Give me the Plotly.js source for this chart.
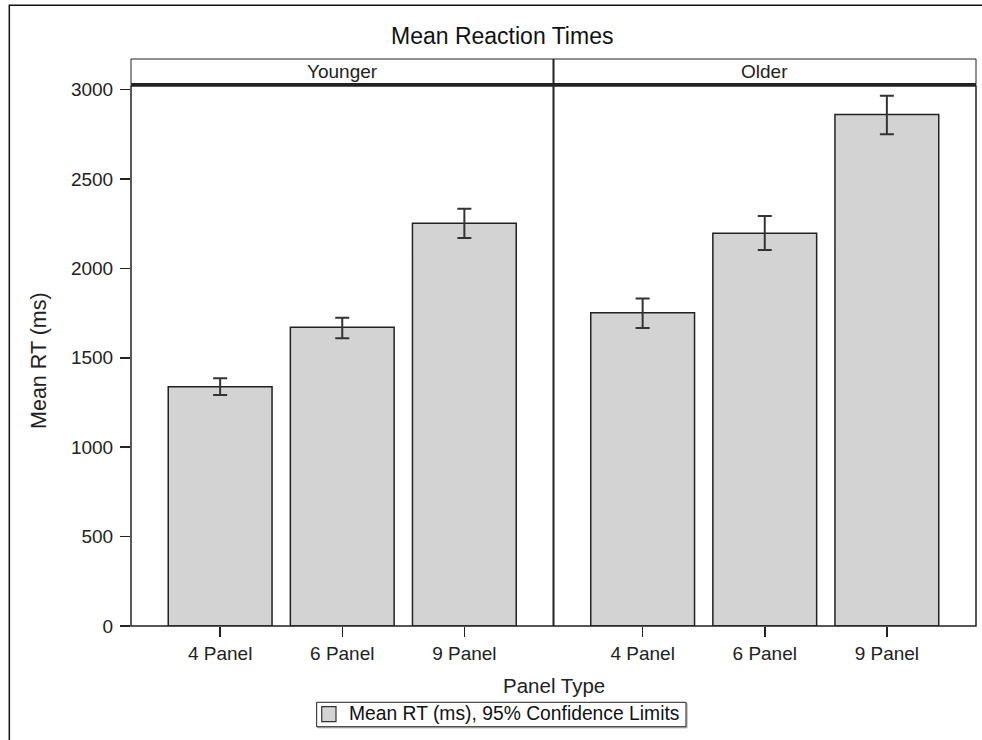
<!DOCTYPE html>
<html>
<head>
<meta charset="utf-8">
<script src="https://cdn.plot.ly/plotly-3.0.1.min.js"></script>
<style>html,body{margin:0;padding:0;background:#fff;}#chart{width:982px;height:740px;}</style>
</head>
<body>
<div id="chart"></div>
<script>
// ---- data ----
var categories = ["4 Panel", "6 Panel", "9 Panel"];
var groups = ["Younger", "Older"];
var youngerMean = [1338, 1671, 2252];
var youngerUpper = [1385, 1724, 2334];
var youngerLower = [1292, 1609, 2170];
var olderMean = [1752, 2196, 2860];
var olderUpper = [1831, 2293, 2966];
var olderLower = [1667, 2103, 2750];
var yTicks = [0, 500, 1000, 1500, 2000, 2500, 3000];
var chartTitle = "Mean Reaction Times";
var yTitle = "Mean RT (ms)";
var xTitle = "Panel Type";
var legendText = "Mean RT (ms), 95% Confidence Limits";

var FONT = '"Liberation Sans", Arial, sans-serif';

function diff(a, b) { return a.map(function (v, i) { return v - b[i]; }); }

function barTrace(means, upper, lower, xa, ya) {
  return {
    type: 'bar',
    x: categories,
    y: means,
    xaxis: xa,
    yaxis: ya,
    width: 0.85,
    marker: { color: '#d3d3d3', line: { color: '#222', width: 1.5 } },
    error_y: {
      type: 'data', symmetric: false,
      array: diff(upper, means),
      arrayminus: diff(means, lower),
      color: '#333', thickness: 2, width: 7
    },
    showlegend: false,
    hoverinfo: 'x+y'
  };
}

var traces = [
  barTrace(youngerMean, youngerUpper, youngerLower, 'x', 'y'),
  barTrace(olderMean, olderUpper, olderLower, 'x2', 'y')
];

var xCommon = {
  type: 'category',
  range: [-0.73, 2.73],
  showline: false,
  showgrid: false,
  zeroline: false,
  ticks: 'outside',
  ticklen: 10,
  tickwidth: 1.5,
  tickcolor: '#222',
  tickfont: { family: FONT, size: 19, color: '#222' },
  fixedrange: true
};

var layout = {
  width: 982,
  height: 740,
  margin: { l: 131, r: 6, t: 86, b: 114, pad: 0 },
  paper_bgcolor: '#fff',
  plot_bgcolor: '#fff',
  showlegend: false,
  bargap: 0,
  xaxis: Object.assign({}, xCommon, { domain: [0, 0.5], anchor: 'y' }),
  xaxis2: Object.assign({}, xCommon, { domain: [0.5, 1], anchor: 'y' }),
  yaxis: {
    range: [0, 3020],
    tickvals: yTicks,
    showgrid: false,
    zeroline: false,
    showline: false,
    ticks: 'outside',
    ticklen: 10,
    tickwidth: 1.5,
    tickcolor: '#222',
    ticklabelstandoff: 3,
    tickfont: { family: FONT, size: 19, color: '#222' },
    fixedrange: true
  },
  shapes: [
    // outer frame
    { type: 'rect', xref: 'paper', yref: 'paper', x0: -0.1440, x1: 1.3, y0: -0.4, y1: 1.1494,
      line: { color: '#111', width: 1.5 }, layer: 'below' },
    // strip box
    { type: 'rect', xref: 'paper', yref: 'paper', x0: 0, x1: 1, y0: 1.0028, y1: 1.0500,
      line: { color: '#222', width: 1 }, fillcolor: 'rgba(0,0,0,0)' },
    // plot frame
    { type: 'rect', xref: 'paper', yref: 'paper', x0: 0, x1: 1, y0: 0, y1: 1,
      line: { color: '#222', width: 1.5 }, fillcolor: 'rgba(0,0,0,0)' },
    // thick line under strip
    { type: 'line', xref: 'paper', yref: 'paper', x0: 0, x1: 1, y0: 1.0028, y1: 1.0028,
      line: { color: '#222', width: 3 } },
    // panel divider
    { type: 'line', xref: 'paper', yref: 'paper', x0: 0.5, x1: 0.5, y0: 0, y1: 1.05,
      line: { color: '#222', width: 2 } },
    // legend shadow
    { type: 'rect', xref: 'paper', yref: 'paper', x0: 0.2209, x1: 0.6580, y0: -0.1885, y1: -0.1433,
      line: { color: '#999', width: 1 }, fillcolor: 'rgba(0,0,0,0)' },
    // legend box
    { type: 'rect', xref: 'paper', yref: 'paper', x0: 0.2197, x1: 0.6568, y0: -0.1865, y1: -0.1413,
      line: { color: '#222', width: 1 }, fillcolor: '#fff' },
    // legend swatch
    { type: 'rect', xref: 'paper', yref: 'paper', x0: 0.2257, x1: 0.2426, y0: -0.1772, y1: -0.1494,
      line: { color: '#333', width: 1.2 }, fillcolor: '#d3d3d3' }
  ],
  annotations: [
    { text: chartTitle, xref: 'paper', yref: 'paper', x: 0.4396, y: 1.0920,
      xanchor: 'center', yanchor: 'middle', showarrow: false,
      font: { family: FONT, size: 23, color: '#111' } },
    { text: groups[0], xref: 'paper', yref: 'paper', x: 0.25, y: 1.0265,
      xanchor: 'center', yanchor: 'middle', showarrow: false,
      font: { family: FONT, size: 19, color: '#222' } },
    { text: groups[1], xref: 'paper', yref: 'paper', x: 0.75, y: 1.0265,
      xanchor: 'center', yanchor: 'middle', showarrow: false,
      font: { family: FONT, size: 19, color: '#222' } },
    { text: xTitle, xref: 'paper', yref: 'paper', x: 0.5, y: -0.1098,
      xanchor: 'center', yanchor: 'middle', showarrow: false,
      font: { family: FONT, size: 20.5, color: '#222' } },
    { text: yTitle, xref: 'paper', yref: 'paper', x: -0.1089, y: 0.4926,
      xanchor: 'center', yanchor: 'middle', showarrow: false, textangle: -90,
      font: { family: FONT, size: 21.5, color: '#222' } },
    { text: legendText, xref: 'paper', yref: 'paper', x: 0.2553, y: -0.1626,
      xanchor: 'left', yanchor: 'middle', showarrow: false,
      font: { family: FONT, size: 19.3, color: '#111' } }
  ]
};

Plotly.newPlot('chart', traces, layout, { staticPlot: true, displayModeBar: false });
</script>
</body>
</html>
